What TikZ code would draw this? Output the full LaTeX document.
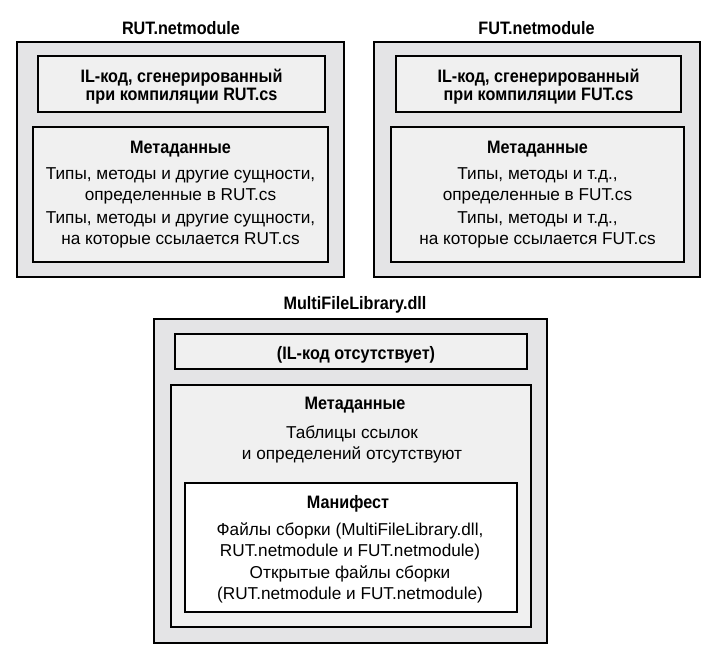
\documentclass[tikz,border=0pt]{standalone}
\usepackage{fontspec}
\setmainfont{Liberation Sans}[BoldFeatures={FakeStretch=0.9}]
\usepackage{xcolor}
\usepackage{tikz}
\usetikzlibrary{positioning}
\definecolor{modgray}{RGB}{228,228,230}
\definecolor{partgray}{RGB}{240,240,240}
\tikzset{
  modbox/.style={draw=black, line width=2pt, fill=modgray, inner sep=0pt},
  partbox/.style={draw=black, line width=2pt, fill=partgray, inner sep=0pt},
  manbox/.style={draw=black, line width=2pt, fill=white, inner sep=0pt},
  ttl/.style={align=center, inner sep=0pt, font=\bfseries\fontsize{18}{18}\selectfont},
  txt/.style={align=center, inner sep=0pt, font=\fontsize{17.2}{21}\selectfont}
}

\begin{document}
\begin{tikzpicture}[x=1pt,y=-1pt]
\useasboundingbox (0,0) rectangle (728,650) ;
\node[modbox, minimum width=327pt, minimum height=235pt] (rut) at (180,159.5) {} ;
\node[partbox, minimum width=287pt, minimum height=56pt] (rutil) at (181.5,84) {} ;
\node[partbox, minimum width=295pt, minimum height=135pt] (rutmeta) at (180.5,194.5) {} ;
\node[modbox, minimum width=326pt, minimum height=235pt] (fut) at (537,159.5) {} ;
\node[partbox, minimum width=285pt, minimum height=56pt] (futil) at (538.5,84) {} ;
\node[partbox, minimum width=293pt, minimum height=135pt] (futmeta) at (537.5,194.5) {} ;
\node[modbox, minimum width=393pt, minimum height=324pt] (dll) at (350.5,481) {} ;
\node[partbox, minimum width=352pt, minimum height=35pt] (dllil) at (351,351.5) {} ;
\node[partbox, minimum width=360pt, minimum height=242pt] (dllmeta) at (351,506) {} ;
\node[manbox, minimum width=332pt, minimum height=129pt] (man) at (351,547.5) {} ;
\node[ttl] (rutname) at (181,28) {RUT.netmodule} ;
\node[ttl] (rutiltext) at (181.5,87) {IL-код, сгенерированный\\при компиляции RUT.cs} ;
\node[ttl] (rutmetaname) at (180.5,149) {Метаданные} ;
\node[txt] (rutdef) at (180.5,185.5) {Типы, методы и другие сущности,\\определенные в RUT.cs} ;
\node[txt] (rutref) at (180.5,230) {Типы, методы и другие сущности,\\на которые ссылается RUT.cs} ;
\node[ttl] (futname) at (536.5,28) {FUT.netmodule} ;
\node[ttl] (futiltext) at (538.5,87) {IL-код, сгенерированный\\при компиляции FUT.cs} ;
\node[ttl] (futmetaname) at (537.5,149) {Метаданные} ;
\node[txt] (futdef) at (537.5,185.5) {Типы, методы и т.д.,\\определенные в FUT.cs} ;
\node[txt] (futref) at (537.5,230) {Типы, методы и т.д.,\\на которые ссылается FUT.cs} ;
\node[ttl] (dllname) at (355,305) {MultiFileLibrary.dll} ;
\node[ttl] (dlliltext) at (356,355) {(IL-код отсутствует)} ;
\node[ttl] (dllmetaname) at (355,405) {Метаданные} ;
\node[txt] (dlltables) at (352,444.5) {Таблицы ссылок\\и определений отсутствуют} ;
\node[ttl] (manname) at (348,504) {Манифест} ;
\node[txt] (manfiles) at (350,541) {Файлы сборки (MultiFileLibrary.dll,\\RUT.netmodule и FUT.netmodule)} ;
\node[txt] (manpublic) at (350,584) {Открытые файлы сборки\\(RUT.netmodule и FUT.netmodule)} ;
\end{tikzpicture}
\end{document}
